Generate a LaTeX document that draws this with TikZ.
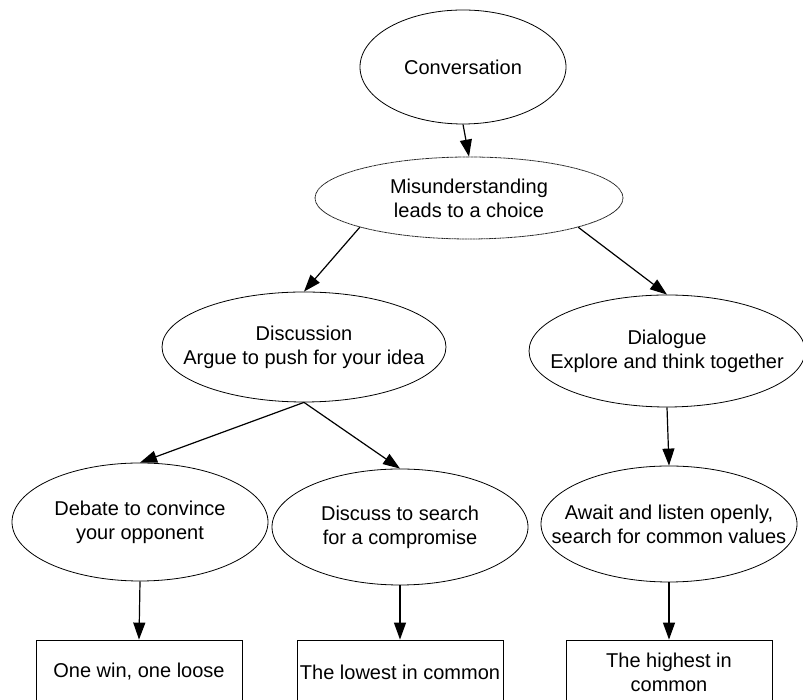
\documentclass[tikz,border=0pt]{standalone}
\usepackage{fontspec}
\setmainfont{Liberation Sans}
\usetikzlibrary{shapes,arrows.meta}
\tikzstyle{bubble} = [ellipse, draw, line width = 0.8pt, inner sep = 0pt]
\tikzstyle{choicebubble} = [bubble, draw = black!85, dash pattern = on 1.2pt off 0.4pt]
\tikzstyle{bubbletext} = [align = center, inner sep = 0pt]
\tikzstyle{resultblock} = [rectangle, draw, line width = 0.8pt, minimum width = 206pt, minimum height = 64pt, align = center, inner sep = 0pt]
\tikzstyle{link} = [-{Triangle[length = 17pt, width = 12pt]}, line width = 1.2pt]

\begin{document}
\begin{tikzpicture}[x = 1pt, y = 1pt]
\tikzstyle{every node}=[font=\fontsize{20}{24}\selectfont];
\useasboundingbox (0,0) rectangle (803,700);
\clip (0,0) rectangle (803,700);
\node [bubble, minimum width = 206pt, minimum height = 114pt, label = {[bubbletext]center:Conversation}] (conversation) at (463,633) {};
\node [choicebubble, minimum width = 308pt, minimum height = 82pt, label = {[bubbletext]center:{Misunderstanding\\leads to a choice}}] (choice) at (469,502) {};
\node [bubble, minimum width = 284pt, minimum height = 110pt, label = {[bubbletext]center:{Discussion\\Argue to push for your idea}}] (discussion) at (304,353) {};
\node [bubble, minimum width = 276pt, minimum height = 112pt, label = {[bubbletext]center:{Dialogue\\Explore and think together}}] (dialogue) at (667,349) {};
\node [bubble, minimum width = 256pt, minimum height = 118pt, label = {[bubbletext]center:{Debate to convince\\your opponent}}] (debate) at (140,178) {};
\node [bubble, minimum width = 256pt, minimum height = 116pt, label = {[bubbletext]center:{Discuss to search\\for a compromise}}] (compromise) at (400,173) {};
\node [bubble, minimum width = 256pt, minimum height = 116pt, label = {[bubbletext]center:{Await and listen openly,\\search for common values}}] (await) at (669,176) {};
\node [resultblock] (winloose) at (139,28) {One win, one loose};
\node [resultblock] (lowest) at (400,28) {The lowest in common};
\node [resultblock] (highest) at (669,28) {The highest in\\common};

\draw [link] (conversation.south) -- (choice.north);
\draw [link] (choice.195) -- (discussion.north);
\draw [link] (choice.345) -- (dialogue.north);
\draw [link] (discussion.south) -- (debate.north);
\draw [link] (discussion.south) -- (compromise.north);
\draw [link] (dialogue.south) -- (await.north);
\draw [link] (debate.south) -- (winloose.north);
\draw [link] (compromise.south) -- (lowest.north);
\draw [link] (await.south) -- (highest.north);
\end{tikzpicture}
\end{document}
